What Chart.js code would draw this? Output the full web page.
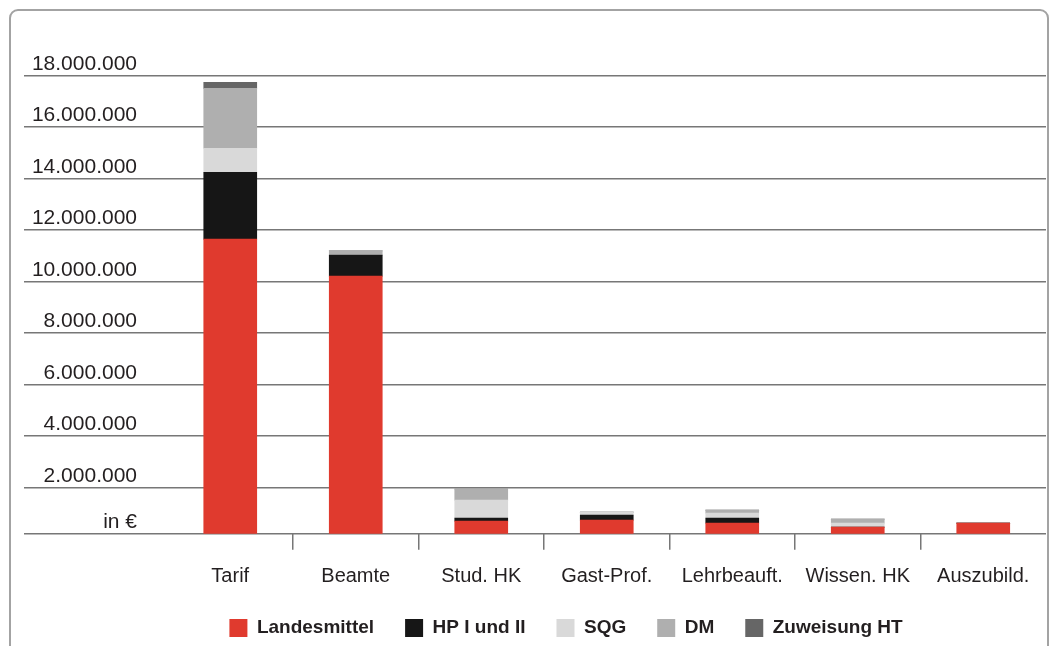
<!DOCTYPE html>
<html>
<head>
<meta charset="utf-8">
<script src="https://cdn.jsdelivr.net/npm/chart.js@4.4.1/dist/chart.umd.min.js"></script>
<style>
  html, body { margin: 0; padding: 0; background: #fff; overflow: hidden; }
  #frame { position: absolute; left: 9px; top: 9px; width: 1036px; height: 700px; border: 2px solid #a3a3a3; border-radius: 9px; }
  #wrap { position: absolute; left: 0; top: 0; width: 1056px; height: 646px; }
</style>
</head>
<body>
<div id="frame"></div>
<div id="wrap"><canvas id="chart" width="1056" height="646"></canvas></div>
<script>
// categories and the five funding sources (in €)
const categories = ['Tarif', 'Beamte', 'Stud. HK', 'Gast-Prof.', 'Lehrbeauft.', 'Wissen. HK', 'Auszubild.'];
const landesmittel = [11650000, 10210000, 690000, 730000, 610000, 455000, 610000];
const hpIundII = [2600000, 820000, 117000, 194000, 194000, 0, 0];
const sqg = [930000, 0, 700000, 117000, 194000, 155000, 0];
const dm = [2330000, 160000, 430000, 0, 117000, 155000, 0];
const zuweisungHT = [230000, 0, 0, 0, 0, 0, 0];

// y axis: the baseline sits a little above zero in the original
const yTicks = [200000, 2000000, 4000000, 6000000, 8000000, 10000000, 12000000, 14000000, 16000000, 18000000];
const yTickLabels = ['in €', '2.000.000', '4.000.000', '6.000.000', '8.000.000', '10.000.000', '12.000.000', '14.000.000', '16.000.000', '18.000.000'];

const textColor = '#231f20';
const lineColor = '#777';

const makeSet = (label, data, color) => ({
  label: label,
  data: data,
  backgroundColor: color,
  borderWidth: 0,
  barThickness: 53
});

const config = {
  type: 'bar',
  data: {
    labels: categories,
    datasets: [
      makeSet('Landesmittel', landesmittel, '#e03a2e'),
      makeSet('HP I und II', hpIundII, '#161616'),
      makeSet('SQG', sqg, '#d9d9d9'),
      makeSet('DM', dm, '#afafaf'),
      makeSet('Zuweisung HT', zuweisungHT, '#666666')
    ]
  },
  options: {
    responsive: false,
    animation: false,
    layout: { padding: { left: 86, right: 10, top: 50, bottom: -1.5 } },
    scales: {
      x: {
        stacked: true,
        border: { display: false },
        grid: {
          offset: true,
          drawOnChartArea: false,
          tickLength: 16,
          lineWidth: 1.5,
          color: (ctx) => (ctx.type === 'tick' && ctx.index > 0) ? lineColor : 'rgba(0,0,0,0)'
        },
        ticks: {
          padding: 15,
          color: textColor,
          font: { family: '"Liberation Sans", Arial, sans-serif', size: 20 }
        },
        afterFit: (scale) => { scale.height = 53.8; }
      },
      y: {
        stacked: true,
        min: 200000,
        max: 19000000,
        border: { display: false },
        grid: {
          tickLength: 143.5,
          lineWidth: 1.5,
          color: lineColor
        },
        afterBuildTicks: (scale) => { scale.ticks = yTicks.map(v => ({ value: v })); },
        afterFit: (scale) => { scale.width = 81.5; },
        ticks: {
          mirror: true,
          crossAlign: 'far',
          padding: -135.6,
          color: textColor,
          font: { family: '"Liberation Sans", Arial, sans-serif', size: 21, lineHeight: 1.1 },
          callback: (value, index) => [yTickLabels[index], '']
        }
      }
    },
    plugins: {
      tooltip: { enabled: false },
      legend: {
        position: 'bottom',
        labels: {
          boxWidth: 18,
          boxHeight: 18,
          padding: 31,
          color: textColor,
          font: { family: '"Liberation Sans", Arial, sans-serif', size: 19, weight: 'bold' }
        }
      }
    }
  }
};

const chart = new Chart(document.getElementById('chart').getContext('2d'), config);
</script>
</body>
</html>
